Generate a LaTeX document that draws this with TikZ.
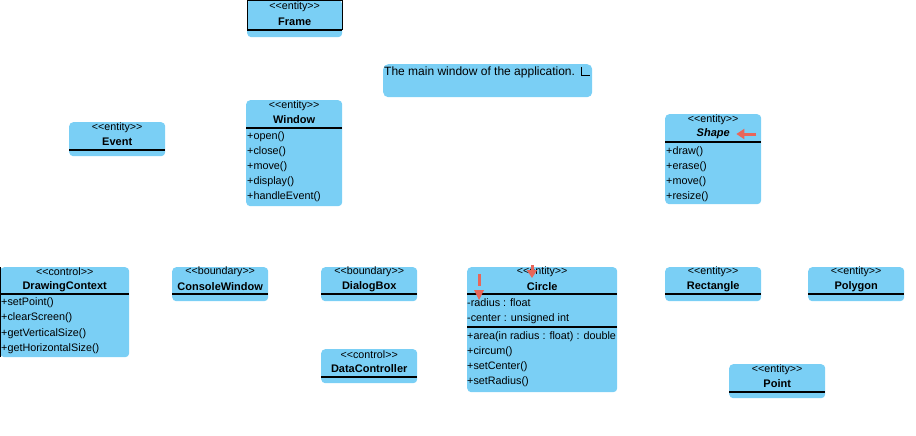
\documentclass[tikz,border=0pt]{standalone}
\usepackage{fontspec}
\setmainfont{Liberation Sans}
\usetikzlibrary{arrows.meta}
\definecolor{umlblue}{RGB}{122,207,245}
\definecolor{umlred}{RGB}{232,102,90}
\newcommand{\stereotype}[1]{<{}<#1>{}>}
\tikzset{
	classbox/.style = {
		rectangle,
		rounded corners=4pt,
		fill=umlblue,
		draw=none,
		inner sep=0pt,
		anchor=north west
	},
	stereo/.style = {
		inner sep=0pt,
		font=\fontsize{10.7}{12}\selectfont
	},
	cname/.style = {
		inner sep=0pt,
		font=\fontsize{11}{12}\selectfont\bfseries
	},
	member/.style = {
		inner sep=0pt,
		anchor=west,
		font=\fontsize{10.8}{12}\selectfont
	},
	notetext/.style = {
		inner sep=0pt,
		anchor=west,
		font=\fontsize{12}{13}\selectfont
	},
	divider/.style = {
		black,
		line width=1.2pt
	},
	edgeline/.style = {
		black,
		line width=1pt
	},
	pointer/.style = {
		draw=umlred,
		line width=3pt,
		-{Triangle[length=8pt,width=10pt]}
	},
}

\begin{document}
\begin{tikzpicture}[x=1pt,y=-1pt]
\useasboundingbox (0,0) rectangle (916,436);

% Frame
\node [classbox, minimum width=95pt, minimum height=37pt] (frame) at (247,0) {};
\node [stereo] (frame-st) at ([yshift=-7pt]frame.north) {\stereotype{entity}};
\node [cname] (frame-nm) at ([yshift=-22pt]frame.north) {Frame};
\draw [divider] ([yshift=-30pt]frame.north west) -- ([yshift=-30pt]frame.north east);
\draw [edgeline] ([yshift=-30pt]frame.north west) -- ([yshift=-0.5pt]frame.north west)
	-- ([yshift=-0.5pt]frame.north east) -- ([yshift=-30pt]frame.north east);

% note
\node [classbox, rounded corners=5pt, minimum width=209pt, minimum height=33pt] (note) at (383,64) {};
\node [notetext] (note-txt) at ([xshift=1pt,yshift=-8pt]note.north west) {The main window of the application.};
\draw [edgeline] ([xshift=-11pt,yshift=-3pt]note.north east) -- ([xshift=-11pt,yshift=-12pt]note.north east)
	-- ([xshift=-2pt,yshift=-12pt]note.north east);

% Window
\node [classbox, minimum width=96pt, minimum height=106pt] (window) at (246,100) {};
\node [stereo] (window-st) at ([yshift=-6pt]window.north) {\stereotype{entity}};
\node [cname] (window-nm) at ([yshift=-20pt]window.north) {Window};
\draw [divider] ([yshift=-28pt]window.north west) -- ([yshift=-28pt]window.north east);
\foreach \op [count=\i] in {open(),close(),move(),display(),handleEvent()}
	\node [member] (window-m\i) at ([xshift=1pt,yshift={-(22+15*\i)*1pt}]window.north west) {+\op};

% Event
\node [classbox, minimum width=96pt, minimum height=34pt] (event) at (69,122) {};
\node [stereo] (event-st) at ([yshift=-6pt]event.north) {\stereotype{entity}};
\node [cname] (event-nm) at ([yshift=-20pt]event.north) {Event};
\draw [divider] ([yshift=-28pt]event.north west) -- ([yshift=-28pt]event.north east);

% Shape
\node [classbox, minimum width=96pt, minimum height=90pt] (shape) at (665,114) {};
\node [stereo] (shape-st) at ([yshift=-6pt]shape.north) {\stereotype{entity}};
\node [cname, font=\fontsize{11}{12}\selectfont\bfseries\itshape] (shape-nm) at ([yshift=-20pt]shape.north) {Shape};
\draw [divider] ([yshift=-28pt]shape.north west) -- ([yshift=-28pt]shape.north east);
\foreach \op [count=\i] in {draw(),erase(),move(),resize()}
	\node [member] (shape-m\i) at ([xshift=1pt,yshift={-(23+15*\i)*1pt}]shape.north west) {+\op};
\coordinate (shape-p1) at ([xshift=-5pt,yshift=-20pt]shape.north east);
\coordinate (shape-p2) at ([xshift=-25pt,yshift=-20pt]shape.north east);
\draw [pointer] (shape-p1) -- (shape-p2);

% DrawingContext
\node [classbox, minimum width=129pt, minimum height=90pt] (drawctx) at (0,267) {};
\node [stereo] (drawctx-st) at ([yshift=-5pt]drawctx.north) {\stereotype{control}};
\node [cname] (drawctx-nm) at ([yshift=-20pt]drawctx.north) {DrawingContext};
\draw [divider] ([yshift=-27pt]drawctx.north west) -- ([yshift=-27pt]drawctx.north east);
\draw [edgeline] ([xshift=0.5pt]drawctx.north west) -- ([xshift=0.5pt]drawctx.south west);
\foreach \op [count=\i] in {setPoint(),clearScreen(),getVerticalSize(),getHorizontalSize()}
	\node [member] (drawctx-m\i) at ([xshift=1pt,yshift={-(20+15.5*\i)*1pt}]drawctx.north west) {+\op};

% ConsoleWindow
\node [classbox, minimum width=96pt, minimum height=34pt] (console) at (172,267) {};
\node [stereo] (console-st) at ([yshift=-5pt]console.north) {\stereotype{boundary}};
\node [cname] (console-nm) at ([yshift=-20pt]console.north) {ConsoleWindow};
\draw [divider] ([yshift=-27pt]console.north west) -- ([yshift=-27pt]console.north east);

% DialogBox
\node [classbox, minimum width=96pt, minimum height=34pt] (dialog) at (321,267) {};
\node [stereo] (dialog-st) at ([yshift=-5pt]dialog.north) {\stereotype{boundary}};
\node [cname] (dialog-nm) at ([yshift=-20pt]dialog.north) {DialogBox};
\draw [divider] ([yshift=-27pt]dialog.north west) -- ([yshift=-27pt]dialog.north east);

% DataController
\node [classbox, minimum width=96pt, minimum height=34pt] (datactl) at (321,349) {};
\node [stereo] (datactl-st) at ([yshift=-6pt]datactl.north) {\stereotype{control}};
\node [cname] (datactl-nm) at ([yshift=-20pt]datactl.north) {DataController};
\draw [divider] ([yshift=-28pt]datactl.north west) -- ([yshift=-28pt]datactl.north east);

% Circle
\node [classbox, minimum width=150pt, minimum height=125pt] (circle) at (467,267) {};
\node [stereo] (circle-st) at ([yshift=-5pt]circle.north) {\stereotype{entity}};
\node [cname] (circle-nm) at ([yshift=-20pt]circle.north) {Circle};
\draw [divider] ([yshift=-27pt]circle.north west) -- ([yshift=-27pt]circle.north east);
\node [member] (circle-a1) at ([yshift=-36pt]circle.north west) {-radius : float};
\node [member] (circle-a2) at ([yshift=-52pt]circle.north west) {-center : unsigned int};
\draw [divider] ([yshift=-60pt]circle.north west) -- ([yshift=-60pt]circle.north east);
\foreach \op [count=\i] in {area(in radius : float) : double,circum(),setCenter(),setRadius()}
	\node [member] (circle-m\i) at ([yshift={-(55+15*\i)*1pt}]circle.north west) {+\op};
\coordinate (circle-p1) at ([xshift=12pt,yshift=-7pt]circle.north west);
\coordinate (circle-p2) at ([xshift=12pt,yshift=-19pt]circle.north west);
\draw [umlred, line width=3pt] (circle-p1) -- (circle-p2);
\fill [umlred] ([xshift=7pt,yshift=-23pt]circle.north west) -- ([xshift=17pt,yshift=-23pt]circle.north west)
	-- ([xshift=12pt,yshift=-33pt]circle.north west) -- cycle;
\coordinate (circle-p3) at ([xshift=65pt,yshift=2pt]circle.north west);
\coordinate (circle-p4) at ([xshift=65pt,yshift=-11pt]circle.north west);
\draw [pointer] (circle-p3) -- (circle-p4);

% Rectangle
\node [classbox, minimum width=96pt, minimum height=34pt] (rect) at (665,267) {};
\node [stereo] (rect-st) at ([yshift=-5pt]rect.north) {\stereotype{entity}};
\node [cname] (rect-nm) at ([yshift=-20pt]rect.north) {Rectangle};
\draw [divider] ([yshift=-27pt]rect.north west) -- ([yshift=-27pt]rect.north east);

% Polygon
\node [classbox, minimum width=96pt, minimum height=34pt] (polygon) at (808,267) {};
\node [stereo] (polygon-st) at ([yshift=-5pt]polygon.north) {\stereotype{entity}};
\node [cname] (polygon-nm) at ([yshift=-20pt]polygon.north) {Polygon};
\draw [divider] ([yshift=-27pt]polygon.north west) -- ([yshift=-27pt]polygon.north east);

% Point
\node [classbox, minimum width=96pt, minimum height=34pt] (point) at (729,364) {};
\node [stereo] (point-st) at ([yshift=-6pt]point.north) {\stereotype{entity}};
\node [cname] (point-nm) at ([yshift=-20pt]point.north) {Point};
\draw [divider] ([yshift=-28pt]point.north west) -- ([yshift=-28pt]point.north east);
\end{tikzpicture}
\end{document}
